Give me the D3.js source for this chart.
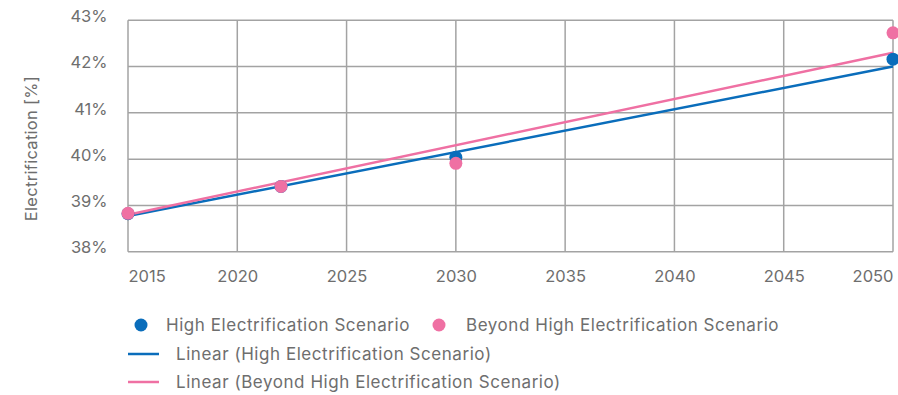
<!DOCTYPE html>
<html><head><meta charset="utf-8">
<script src="https://cdn.jsdelivr.net/npm/d3@7"></script>
<style>
html,body{margin:0;padding:0;background:#fff;}
text{font-family:Inter,"Noto Sans",sans-serif;fill:#6e6e6e;}
</style></head>
<body><svg id="chart" width="898" height="395"></svg>
<script>
// Data
const years = [2015, 2022, 2030, 2050];
const highElec = [38.82, 39.41, 40.04, 42.16];
const beyondHighElec = [38.83, 39.41, 39.91, 42.73];
// Linear trendlines as drawn in the reference (value at first and last year)
const trendYears = [2015, 2050];
const trendHigh = [38.77, 42.00];
const trendBeyond = [38.80, 42.30];
const xTicks = [2015, 2020, 2025, 2030, 2035, 2040, 2045, 2050];
const yTicks = [38, 39, 40, 41, 42, 43];
const seriesNames = ["High Electrification Scenario", "Beyond High Electrification Scenario"];
const trendNames = ["Linear (High Electrification Scenario)", "Linear (Beyond High Electrification Scenario)"];

const BLUE = "#0a6dbb", PINK = "#ef70a3", GRID = "#a3a3a3";
const svg = d3.select("#chart");
const L = 128, R = 893, T = 20.3, B = 251.7;
const x = d3.scaleLinear().domain([2015, 2050]).range([L, R]);
const y = d3.scaleLinear().domain([38, 43]).range([B, T]);

// grid
const g = svg.append("g");
g.selectAll("line.h").data(yTicks).join("line")
  .attr("x1", L).attr("x2", R).attr("y1", d => y(d)).attr("y2", d => y(d))
  .attr("stroke", GRID).attr("stroke-width", 1.5);
g.selectAll("line.v").data(xTicks).join("line")
  .attr("y1", T).attr("y2", B).attr("x1", d => x(d)).attr("x2", d => x(d))
  .attr("stroke", GRID).attr("stroke-width", 1.5);

// y axis labels
const yAxis = d3.axisLeft(y).tickValues(yTicks).tickFormat(d => d + "%").tickSize(0).tickPadding(0);
const ya = svg.append("g").attr("transform", `translate(107.5,-4)`).call(yAxis);
ya.select(".domain").remove();
ya.selectAll("text").style("font-size", "16.5px").attr("fill", "#6e6e6e").style("font-family", "Inter");

// x axis labels
const xAxis = d3.axisBottom(x).tickValues(xTicks).tickFormat(d3.format("d")).tickSize(0).tickPadding(0);
const xa = svg.append("g").attr("transform", `translate(0,${B + 19})`).call(xAxis);
xa.select(".domain").remove();
xa.selectAll("text").style("font-size", "16.5px").attr("fill", "#6e6e6e").style("font-family", "Inter")
  .attr("text-anchor", d => d === 2015 ? "start" : d === 2050 ? "end" : "middle");

// y title
svg.append("text").attr("transform", `translate(37,148.5) rotate(-90)`)
  .attr("text-anchor", "middle").style("font-size", "16.5px").style("letter-spacing", "0.3px")
  .text("Electrification [%]");

// trendlines
const trendLine = d3.line().x(d => x(d[0])).y(d => y(d[1]));
svg.append("path").datum(trendYears.map((yr, i) => [yr, trendHigh[i]]))
  .attr("d", trendLine).attr("fill", "none").attr("stroke", BLUE).attr("stroke-width", 2.5);
svg.append("path").datum(trendYears.map((yr, i) => [yr, trendBeyond[i]]))
  .attr("d", trendLine).attr("fill", "none").attr("stroke", PINK).attr("stroke-width", 2.5);

// points
svg.append("g").selectAll("circle").data(years.map((yr, i) => [yr, highElec[i]])).join("circle")
  .attr("cx", d => x(d[0])).attr("cy", d => y(d[1])).attr("r", 6.5).attr("fill", BLUE);
svg.append("g").selectAll("circle").data(years.map((yr, i) => [yr, beyondHighElec[i]])).join("circle")
  .attr("cx", d => x(d[0])).attr("cy", d => y(d[1])).attr("r", 6.5).attr("fill", PINK);

// legend
const lg = svg.append("g").style("font-size", "17px").style("letter-spacing", "0.55px");
lg.append("circle").attr("cx", 141).attr("cy", 325).attr("r", 6.5).attr("fill", BLUE);
lg.append("text").attr("x", 166).attr("y", 325).attr("dy", "0.35em").text(seriesNames[0]);
lg.append("circle").attr("cx", 439).attr("cy", 325).attr("r", 6.5).attr("fill", PINK);
lg.append("text").attr("x", 466).attr("y", 325).attr("dy", "0.35em").text(seriesNames[1]);
lg.append("line").attr("x1", 128).attr("x2", 159).attr("y1", 354).attr("y2", 354).attr("stroke", BLUE).attr("stroke-width", 2.5);
lg.append("text").attr("x", 176).attr("y", 354).attr("dy", "0.35em").text(trendNames[0]);
lg.append("line").attr("x1", 128).attr("x2", 159).attr("y1", 382).attr("y2", 382).attr("stroke", PINK).attr("stroke-width", 2.5);
lg.append("text").attr("x", 176).attr("y", 382).attr("dy", "0.35em").text(trendNames[1]);
</script></body></html>
